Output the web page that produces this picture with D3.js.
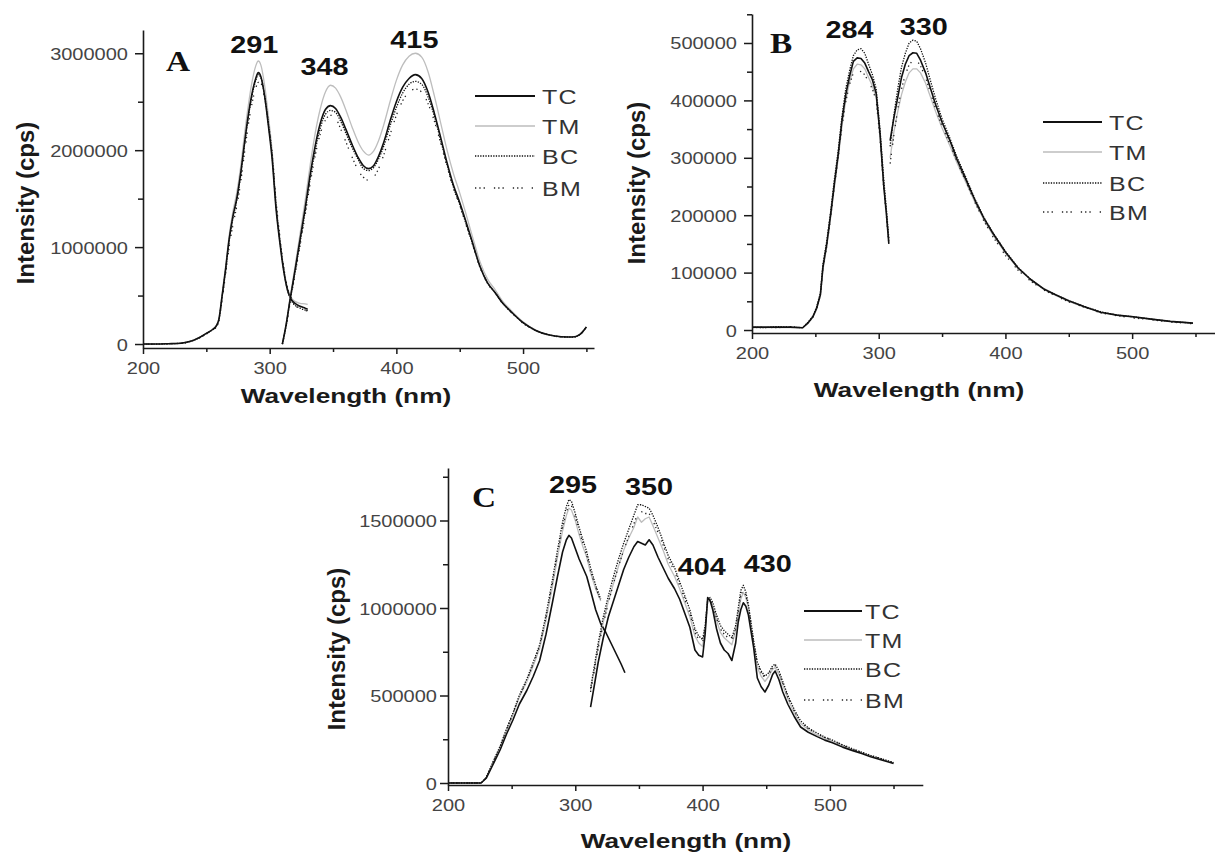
<!DOCTYPE html>
<html>
<head>
<meta charset="utf-8">
<script src="https://cdn.jsdelivr.net/npm/d3@7/dist/d3.min.js"></script>
<style>
  html, body { margin: 0; padding: 0; background: #fff; }
  svg { display: block; }
</style>
</head>
<body>
<svg id="fig" width="1215" height="854"></svg>
<script>
// ---------- axis ticks ----------
const xMajor = [200, 300, 400, 500];
const xMinor = [250, 350, 450, 550];
const aYMajor = [0, 1000000, 2000000, 3000000];
const aYMinor = [500000, 1500000, 2500000];
const bYMajor = [0, 100000, 200000, 300000, 400000, 500000];
const bYMinor = [50000, 150000, 250000, 350000, 450000, 550000];
const cYMajor = [0, 500000, 1000000, 1500000];
const cYMinor = [250000, 750000, 1250000, 1750000];

const seriesNames = ["TC", "TM", "BC", "BM"];
const panelLetters = ["A", "B", "C"];
const xTitle = "Wavelength (nm)";
const yTitle = "Intensity (cps)";

// ---------- peak wavelengths marked on each panel ----------
const aPeaks = [291, 348, 415];
const bPeaks = [284, 330];
const cPeaks = [295, 350, 404, 430];

// ---------- panel A: excitation scan ----------
const aExWl = [200,210,220,230,235,240,245,250,255,258,260,262,265,268,271,274,277,280,283,286,289,291,293,296,299,302,305,308,311,314,317,320,324,328,330];
const aExTC = [0,0,3000,8000,20000,40000,70000,110000,150000,190000,260000,450000,750000,1080000,1320000,1500000,1750000,2060000,2350000,2580000,2740000,2800000,2760000,2560000,2250000,1900000,1400000,1050000,760000,560000,460000,420000,390000,370000,360000];
const aExTM = [0,0,3000,8000,20000,40000,70000,110000,155000,195000,270000,470000,780000,1120000,1370000,1560000,1820000,2150000,2450000,2700000,2870000,2920000,2880000,2670000,2350000,1980000,1460000,1090000,790000,580000,480000,440000,420000,415000,410000];
const aExBC = [0,0,3000,8000,19000,39000,69000,108000,148000,188000,255000,440000,740000,1060000,1300000,1480000,1730000,2040000,2330000,2560000,2720000,2780000,2750000,2560000,2270000,1930000,1430000,1070000,770000,560000,450000,400000,370000,350000,345000];
const aExBM = [0,0,3000,8000,18000,38000,66000,104000,142000,180000,240000,410000,700000,1000000,1230000,1420000,1660000,1960000,2250000,2480000,2640000,2700000,2690000,2540000,2280000,1960000,1480000,1110000,800000,580000,460000,400000,365000,345000,340000];

// ---------- panel A: emission scan ----------
const aEmWl = [310,313,316,320,324,328,332,336,340,344,348,352,356,360,365,370,374,378,382,386,390,395,400,405,410,415,420,425,430,435,440,445,450,455,460,466,472,478,484,490,500,510,520,530,539,545,550];
const aEmTC = [0,200000,450000,760000,1080000,1400000,1750000,2050000,2280000,2420000,2460000,2430000,2340000,2220000,2060000,1920000,1840000,1810000,1840000,1940000,2080000,2300000,2500000,2650000,2740000,2780000,2740000,2600000,2380000,2130000,1870000,1640000,1460000,1260000,1050000,800000,630000,530000,420000,340000,220000,140000,95000,75000,72000,100000,175000];
const aEmTM = [0,210000,470000,800000,1140000,1480000,1850000,2180000,2430000,2600000,2670000,2640000,2550000,2420000,2240000,2080000,1990000,1950000,1990000,2100000,2260000,2500000,2720000,2880000,2970000,3000000,2960000,2810000,2560000,2280000,2000000,1760000,1560000,1340000,1110000,850000,670000,560000,440000,355000,230000,145000,98000,77000,73000,100000,178000];
const aEmBC = [0,190000,440000,740000,1050000,1370000,1710000,2000000,2230000,2370000,2410000,2390000,2300000,2180000,2030000,1900000,1810000,1790000,1820000,1910000,2040000,2250000,2440000,2590000,2680000,2710000,2680000,2550000,2350000,2100000,1850000,1620000,1440000,1240000,1040000,800000,630000,530000,420000,340000,220000,140000,95000,75000,72000,100000,175000];
const aEmBM = [0,180000,420000,720000,1020000,1330000,1660000,1950000,2170000,2310000,2360000,2330000,2220000,2090000,1930000,1790000,1720000,1690000,1720000,1810000,1950000,2160000,2360000,2510000,2600000,2630000,2600000,2480000,2300000,2070000,1830000,1610000,1430000,1230000,1030000,790000,625000,525000,415000,335000,215000,138000,94000,74000,71000,98000,172000];

// ---------- panel B: excitation scan ----------
const bExWl = [200,210,220,230,240,244,248,251,254,256,259,262,265,268,271,274,277,280,283,286,289,292,295,298,301,304,306,308];
const bExTC = [5000,5000,5000,5000,4000,12000,23000,38000,62000,110000,150000,200000,255000,305000,365000,410000,442000,468000,474000,473000,465000,450000,436000,412000,343000,250000,204000,150000];
const bExTM = [4000,4000,4000,4000,4000,11000,22000,36000,60000,105000,145000,195000,248000,298000,355000,400000,432000,455000,463000,462000,455000,440000,425000,405000,340000,250000,205000,155000];
const bExBC = [5000,4000,6000,5000,4000,13000,24000,40000,65000,115000,155000,205000,262000,312000,372000,420000,452000,478000,488000,490000,482000,463000,445000,420000,350000,262000,212000,160000];
const bExBM = [4000,5000,4000,6000,4000,12000,22000,37000,60000,108000,146000,195000,250000,300000,355000,398000,428000,448000,452000,450000,445000,432000,420000,400000,335000,245000,200000,150000];

// ---------- panel B: emission scan ----------
const bEmWl = [309,312,315,318,321,324,327,330,333,337,341,345,350,356,362,369,376,383,390,400,410,420,430,440,450,462,475,488,501,515,530,548];
const bEmTC = [330000,370000,405000,440000,463000,478000,483000,482000,470000,448000,420000,392000,362000,331000,296000,261000,226000,195000,169000,136000,108000,88000,72000,61000,51000,41000,31000,26000,23000,19000,15000,12000];
const bEmTM = [300000,345000,380000,410000,432000,448000,455000,455000,448000,430000,405000,380000,352000,322000,290000,256000,222000,192000,166000,134000,107000,87000,71000,60000,50000,40000,31000,26000,22000,19000,15000,12000];
const bEmBC = [320000,375000,420000,458000,482000,500000,505000,503000,490000,465000,433000,402000,368000,335000,300000,265000,228000,196000,170000,137000,109000,88000,72000,61000,51000,41000,32000,26000,23000,19000,15000,12000];
const bEmBM = [290000,340000,385000,420000,445000,462000,470000,470000,460000,440000,412000,385000,355000,325000,292000,258000,222000,190000,163000,130000,104000,85000,70000,59000,49000,40000,30000,25000,21000,18000,14000,11000];

// ---------- panel C: excitation scan (TM, BC, BM stop at 320 nm) ----------
const cExWl = [200,210,220,226,230,235,241,246,251,256,262,267,272,277,282,286,290,293,295,297,300,303,306,309,312,316,320,324,328,332,336,339];
const cExTC = [0,0,0,0,27000,100000,190000,280000,360000,450000,530000,610000,700000,850000,1030000,1180000,1320000,1390000,1415000,1400000,1340000,1280000,1230000,1180000,1100000,990000,910000,860000,800000,740000,680000,630000];
const cExTM = [0,0,0,0,30000,110000,205000,300000,390000,490000,580000,670000,770000,930000,1120000,1290000,1440000,1530000,1570000,1560000,1500000,1420000,1350000,1290000,1200000,1110000,1040000];
const cExBC = [0,0,0,0,32000,115000,212000,310000,400000,500000,595000,690000,790000,960000,1160000,1330000,1490000,1580000,1620000,1610000,1540000,1460000,1390000,1320000,1230000,1130000,1050000];
const cExBM = [0,0,0,0,30000,112000,208000,305000,395000,495000,588000,680000,780000,945000,1140000,1310000,1460000,1550000,1590000,1585000,1520000,1440000,1370000,1300000,1210000,1120000,1040000];

// ---------- panel C: emission scan ----------
const cEmWl = [312,315,318,322,326,330,334,338,342,346,349,352,355,358,361,365,369,373,378,382,386,390,394,397,400,402,404,406,408,411,414,417,420,423,426,428,430,432,434,436,438,440,443,446,449,452,455,457,460,463,467,472,477,483,490,496,502,510,518,525,532,540,550];
const cEmTC = [434000,560000,690000,830000,950000,1040000,1130000,1220000,1290000,1350000,1380000,1370000,1360000,1390000,1360000,1290000,1230000,1170000,1110000,1050000,970000,890000,760000,730000,720000,850000,1060000,1040000,990000,880000,800000,760000,740000,700000,800000,920000,990000,1030000,1010000,960000,870000,780000,600000,550000,520000,560000,620000,640000,590000,520000,450000,380000,320000,290000,265000,245000,230000,205000,185000,168000,150000,133000,112000];
const cEmTM = [530000,650000,780000,920000,1040000,1140000,1240000,1330000,1400000,1460000,1520000,1490000,1510000,1520000,1470000,1400000,1330000,1250000,1180000,1110000,1030000,950000,840000,800000,780000,880000,1040000,1040000,1010000,930000,860000,830000,810000,790000,870000,960000,1050000,1090000,1060000,1000000,900000,800000,660000,610000,580000,610000,650000,660000,620000,560000,480000,400000,340000,305000,275000,255000,238000,212000,190000,172000,155000,137000,115000];
const cEmBC = [540000,670000,800000,950000,1070000,1180000,1280000,1370000,1450000,1530000,1590000,1590000,1580000,1570000,1530000,1460000,1380000,1300000,1230000,1150000,1070000,990000,880000,840000,820000,900000,1050000,1060000,1030000,960000,900000,870000,850000,830000,900000,1000000,1100000,1130000,1090000,1020000,920000,820000,690000,640000,610000,630000,670000,680000,640000,580000,500000,420000,355000,315000,285000,262000,245000,218000,195000,176000,158000,140000,117000];
const cEmBM = [520000,640000,770000,910000,1030000,1140000,1240000,1330000,1410000,1480000,1540000,1550000,1540000,1540000,1500000,1430000,1360000,1280000,1210000,1130000,1050000,970000,860000,820000,800000,890000,1040000,1050000,1020000,940000,880000,850000,830000,810000,880000,980000,1070000,1110000,1070000,1010000,910000,810000,680000,630000,600000,620000,660000,670000,630000,570000,490000,410000,350000,312000,282000,260000,243000,216000,193000,174000,156000,139000,116000];

// ---------- drawing ----------
const SX = 1.25;                        // horizontal stretch of the lettering
const SANS = "'Liberation Sans', Arial, sans-serif";
const SERIF = "'Liberation Serif', 'Times New Roman', serif";

const lineStyle = {
  TC: { stroke: "#111", width: 1.6, dash: null },
  TM: { stroke: "#bdbdbd", width: 1.3, dash: null },
  BC: { stroke: "#111", width: 1.3, dash: "1.3,1.3" },
  BM: { stroke: "#222", width: 1.3, dash: "1.3,3,1.3,3,1.3,9" }
};
const drawOrder = ["TM", "BM", "BC", "TC"];

const panels = [
  {
    letter: panelLetters[0], xRange: [143, 594], yRange: [348, 30], xDom: [200, 556], yDom: [-41000, 3240000],
    yMajor: aYMajor, yMinor: aYMinor, labelGap: 15, curve: d3.curveMonotoneX,
    segments: [
      { wl: aExWl, TC: aExTC, TM: aExTM, BC: aExBC, BM: aExBM },
      { wl: aEmWl, TC: aEmTC, TM: aEmTM, BC: aEmBC, BM: aEmBM }
    ],
    peaks: aPeaks, peakPos: [[-4, 53], [-6, 75], [-1, 48]],
    letterPos: [166, 71], xTitlePos: [346, 403], yTitlePos: [34, 203],
    legend: { x0: 475, x1: 535, tx: 542, ys: [96, 126, 156, 188] }
  },
  {
    letter: panelLetters[1], xRange: [752, 1214.5], yRange: [333, 14], xDom: [200, 565], yDom: [-5200, 550500],
    yMajor: bYMajor, yMinor: bYMinor, labelGap: 15, curve: d3.curveLinear,
    segments: [
      { wl: bExWl, TC: bExTC, TM: bExTM, BC: bExBC, BM: bExBM },
      { wl: bEmWl, TC: bEmTC, TM: bEmTM, BC: bEmBC, BM: bEmBM }
    ],
    peaks: bPeaks, peakPos: [[-9, 38], [7, 35]],
    letterPos: [770, 53], xTitlePos: [919, 397], yTitlePos: [645, 183],
    legend: { x0: 1043, x1: 1102, tx: 1109, ys: [122, 152, 183, 212] }
  },
  {
    letter: panelLetters[2], xRange: [448, 922.8], yRange: [785, 468], xDom: [200, 573], yDom: [-11400, 1800000],
    yMajor: cYMajor, yMinor: cYMinor, labelGap: 11, curve: d3.curveLinear,
    segments: [
      { wl: cExWl, TC: cExTC, TM: cExTM, BC: cExBC, BM: cExBM },
      { wl: cEmWl, TC: cEmTC, TM: cEmTM, BC: cEmBC, BM: cEmBM }
    ],
    peaks: cPeaks, peakPos: [[4, 493], [10, 495], [-6, 575], [27, 572]],
    letterPos: [472, 507], xTitlePos: [686, 848], yTitlePos: [345, 649],
    legend: { x0: 804, x1: 862, tx: 865, ys: [611, 640, 669, 700] }
  }
];

const svg = d3.select("#fig");

function styleAxis(sel) {
  sel.attr("font-family", SANS);
  sel.select(".domain").attr("stroke", "#1a1a1a").attr("stroke-width", 1.6);
  sel.selectAll(".tick line").attr("stroke", "#1a1a1a").attr("stroke-width", 1.5);
}

panels.forEach(p => {
  const g = svg.append("g");
  const x = d3.scaleLinear().domain(p.xDom).range(p.xRange);
  const y = d3.scaleLinear().domain(p.yDom).range(p.yRange);
  const xAxisY = p.yRange[0];
  const yAxisX = p.xRange[0];

  // curves
  const line = d3.line().x(d => x(d[0])).y(d => y(d[1])).curve(p.curve);
  p.segments.forEach(seg => {
    drawOrder.forEach(name => {
      const pts = seg[name].map((v, i) => [seg.wl[i], v]);
      const st = lineStyle[name];
      g.append("path")
        .datum(pts)
        .attr("d", line)
        .attr("fill", "none")
        .attr("stroke", st.stroke)
        .attr("stroke-width", st.width)
        .attr("stroke-dasharray", st.dash)
        .attr("stroke-linejoin", "round");
    });
  });

  // minor ticks
  g.append("g").attr("transform", `translate(0,${xAxisY})`)
    .call(d3.axisBottom(x).tickValues(xMinor).tickSize(4).tickSizeOuter(0).tickFormat(""))
    .call(s => s.select(".domain").remove())
    .call(styleAxis);
  g.append("g").attr("transform", `translate(${yAxisX},0)`)
    .call(d3.axisLeft(y).tickValues(p.yMinor.filter(v => v <= p.yDom[1])).tickSize(5).tickSizeOuter(0).tickFormat(""))
    .call(s => s.select(".domain").remove())
    .call(styleAxis);

  // major x axis
  const xa = g.append("g").attr("transform", `translate(0,${xAxisY})`)
    .call(d3.axisBottom(x).tickValues(xMajor).tickSize(6).tickSizeOuter(0).tickFormat(d3.format("d")))
    .call(styleAxis);
  xa.selectAll(".tick text")
    .attr("y", null).attr("dy", null)
    .attr("transform", `translate(0,26) scale(${SX},1)`)
    .attr("font-size", 16).attr("fill", "#444");

  // major y axis
  const ya = g.append("g").attr("transform", `translate(${yAxisX},0)`)
    .call(d3.axisLeft(y).tickValues(p.yMajor).tickSize(8).tickSizeOuter(0).tickFormat(d3.format("d")))
    .call(styleAxis);
  ya.selectAll(".tick text")
    .attr("x", null).attr("dy", null)
    .attr("transform", `translate(${-p.labelGap},6) scale(${SX},1)`)
    .attr("font-size", 16).attr("fill", "#444");

  // axis titles
  g.append("text")
    .attr("transform", `translate(${p.xTitlePos[0]},${p.xTitlePos[1]}) scale(${SX},1)`)
    .attr("text-anchor", "middle")
    .attr("font-family", SANS).attr("font-weight", "bold").attr("font-size", 21)
    .attr("fill", "#1a1a1a")
    .text(xTitle);
  g.append("text")
    .attr("transform", `translate(${p.yTitlePos[0]},${p.yTitlePos[1]}) rotate(-90)`)
    .attr("text-anchor", "middle")
    .attr("font-family", SANS).attr("font-weight", "bold").attr("font-size", 24)
    .attr("fill", "#1a1a1a")
    .text(yTitle);

  // panel letter
  g.append("text")
    .attr("transform", `translate(${p.letterPos[0]},${p.letterPos[1]}) scale(1.15,1)`)
    .attr("font-family", SERIF).attr("font-weight", "bold").attr("font-size", 29)
    .attr("fill", "#111")
    .text(p.letter);

  // peak labels
  p.peaks.forEach((wl, i) => {
    g.append("text")
      .attr("transform", `translate(${x(wl) + p.peakPos[i][0]},${p.peakPos[i][1]}) scale(${SX * 0.96},1)`)
      .attr("text-anchor", "middle")
      .attr("font-family", SANS).attr("font-weight", "bold").attr("font-size", 24)
      .attr("fill", "#111")
      .text(String(wl));
  });

  // legend
  const lg = p.legend;
  seriesNames.forEach((name, i) => {
    const st = lineStyle[name];
    g.append("line")
      .attr("x1", lg.x0).attr("x2", lg.x1).attr("y1", lg.ys[i]).attr("y2", lg.ys[i])
      .attr("stroke", st.stroke).attr("stroke-width", st.width + 0.2)
      .attr("stroke-dasharray", st.dash);
    g.append("text")
      .attr("transform", `translate(${lg.tx},${lg.ys[i] + 7.5}) scale(${SX},1)`)
      .attr("font-family", SANS).attr("font-size", 20).attr("fill", "#333")
      .attr("letter-spacing", 1)
      .text(name);
  });
});
</script>
</body>
</html>
